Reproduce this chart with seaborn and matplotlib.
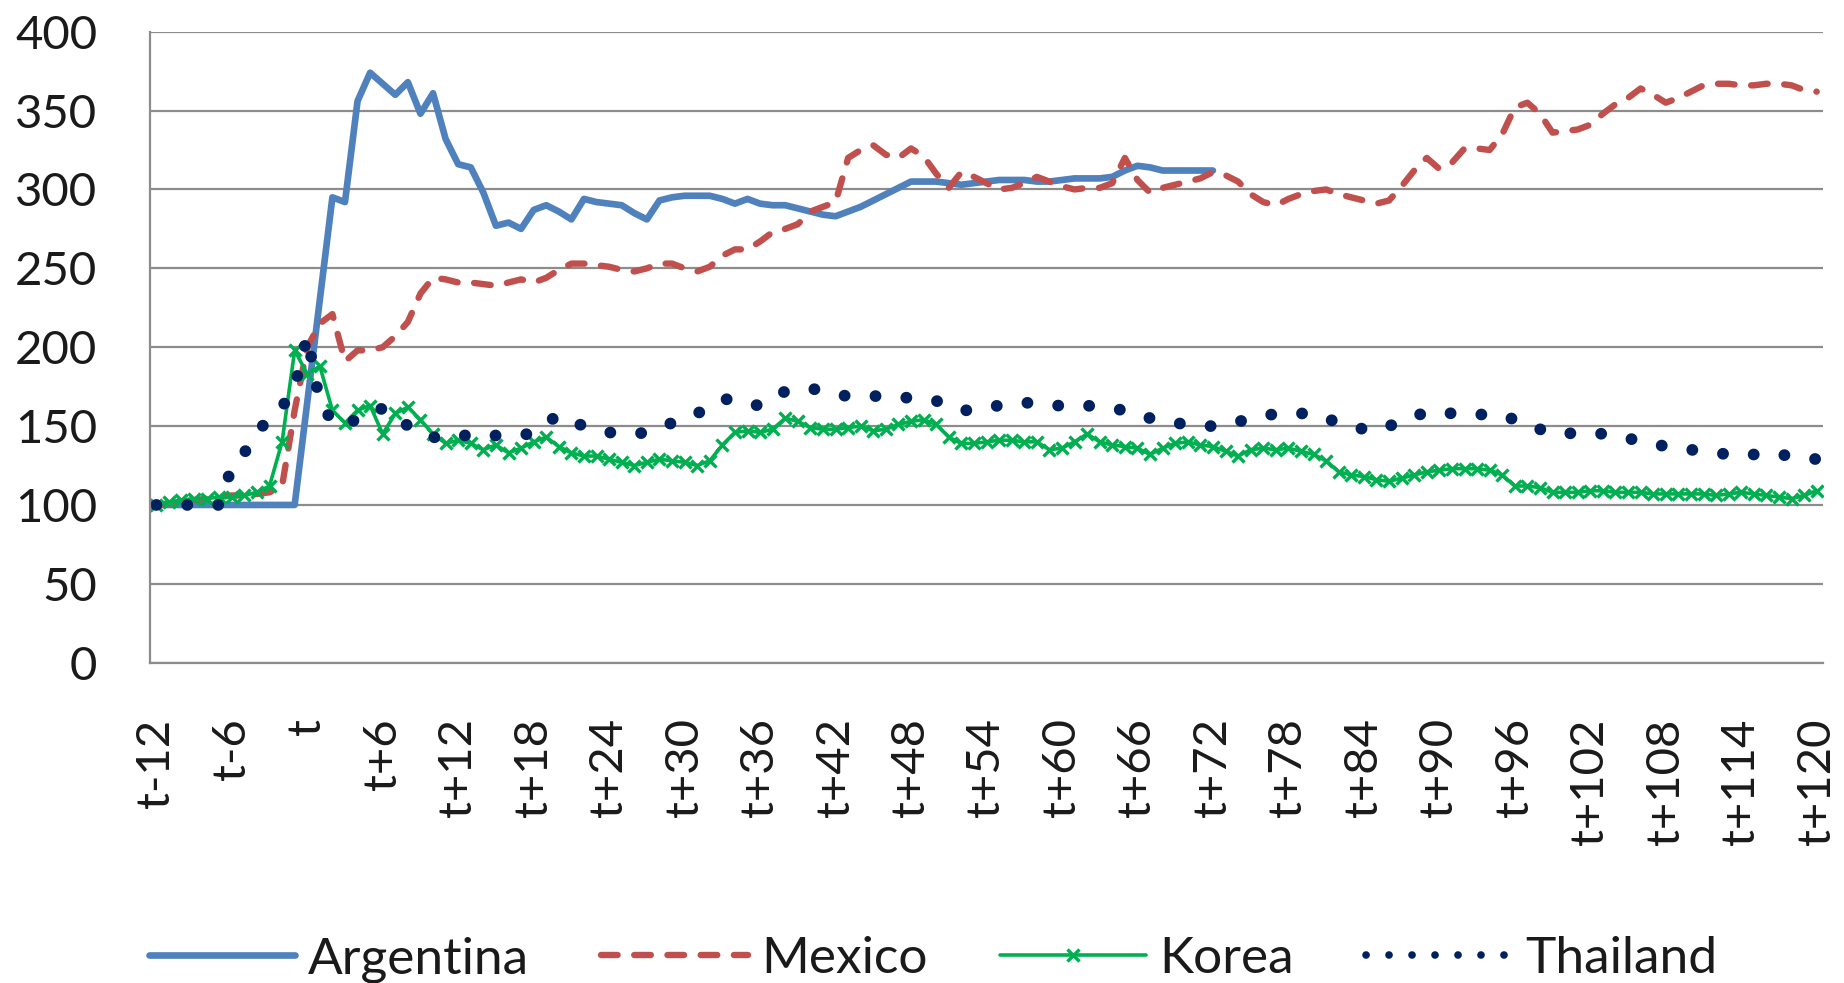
import numpy as np
import pandas as pd
import matplotlib
matplotlib.use("Agg")
import matplotlib.pyplot as plt
from matplotlib.lines import Line2D
import seaborn as sns

# Monthly index (t = 100 at t-12), months t-12 ... t+120
months = np.arange(133)

argentina = [
    100, 100, 100, 100, 100, 100, 100, 100, 100, 100, 100, 100,
    165, 230, 295, 292, 356, 374, 367, 360, 368, 348, 361, 332,
    316, 314, 298, 277, 279, 275, 287, 290, 286, 281, 294, 292,
    291, 290, 285, 281, 293, 295, 296, 296, 296, 294, 291, 294,
    291, 290, 290, 288, 286, 284, 283, 286, 289, 293, 297, 301,
    305, 305, 305, 304, 303, 304, 305, 306, 306, 306, 305, 305,
    306, 307, 307, 307, 308, 312, 315, 314, 312, 312, 312, 312,
    312,
]

mexico = [
    100, 101, 102, 103, 104, 105, 106, 106, 107, 108, 112, 160,
    200, 215, 221, 191, 198, 198, 200, 207, 216, 234, 244, 243,
    241, 241, 240, 239, 241, 243, 241, 244, 249, 253, 253, 252,
    251, 249, 248, 250, 253, 253, 250, 248, 251, 258, 262, 262,
    267, 273, 275, 278, 286, 289, 292, 320, 325, 328, 322, 320,
    326, 321, 310, 301, 311, 308, 304, 300, 301, 304, 308, 305,
    302, 300, 301, 301, 304, 320, 306, 298, 301, 303, 305, 307,
    311, 309, 305, 297, 292, 290, 294, 297, 299, 300, 297, 295,
    293, 291, 293, 302, 312, 320, 313, 317, 326, 326, 325, 335,
    352, 355, 348, 336, 337, 338, 341, 348, 354, 358, 364, 360,
    355, 358, 362, 366, 367, 367, 366, 366, 367, 367, 366, 363,
    362,
]

korea = [
    100, 102, 103, 104, 104, 105, 105, 106, 108, 112, 140, 198,
    183, 188, 160, 152, 160, 163, 145, 158, 162, 154, 145, 139,
    141, 139, 135, 138, 133, 136, 140, 143, 137, 133, 131, 131,
    129, 127, 125, 127, 129, 128, 127, 125, 128, 138, 146, 147,
    146, 148, 155, 153, 149, 148, 148, 149, 150, 147, 148, 151,
    153, 154, 151, 143, 139, 139, 140, 141, 141, 140, 140, 135,
    136, 140, 145, 140, 138, 137, 136, 132, 136, 139, 140, 138,
    137, 134, 131, 135, 136, 135, 136, 134, 132, 128, 121, 119,
    118, 116, 115, 117, 119, 121, 122, 123, 123, 123, 122, 119,
    112, 112, 111, 108, 108, 108, 109, 109, 108, 108, 108, 107,
    107, 107, 107, 107, 106, 107, 108, 107, 106, 105, 104, 106,
    109,
]

thailand = [
    100, 100, 100, 100, 100, 100, 124, 133, 146, 155, 162, 175,
    207, 165, 153, 150, 155, 160, 161, 158, 150, 145, 143, 142,
    143, 145, 145, 144, 144, 144, 146, 152, 157, 153, 150, 148,
    146, 145, 145, 146, 149, 152, 155, 158, 162, 167, 167, 164,
    163, 168, 172, 173, 174, 172, 170, 169, 169, 169, 169, 168,
    168, 167, 166, 163, 160, 160, 162, 163, 164, 165, 164, 163,
    163, 163, 163, 162, 161, 160, 158, 155, 153, 152, 151, 150,
    150, 151, 153, 154, 156, 158, 158, 158, 158, 155, 152, 150,
    148, 147, 150, 153, 156, 159, 159, 158, 157, 157, 158, 157,
    154, 152, 148, 145, 145, 146, 146, 145, 144, 142, 141, 139,
    137, 136, 135, 134, 133, 132, 131, 132, 133, 132, 131, 130,
    129,
]

tick_positions = np.arange(0, 133, 6)
tick_labels = [
    "t-12", "t-6", "t", "t+6", "t+12", "t+18", "t+24", "t+30", "t+36",
    "t+42", "t+48", "t+54", "t+60", "t+66", "t+72", "t+78", "t+84",
    "t+90", "t+96", "t+102", "t+108", "t+114", "t+120",
]
y_ticks = [0, 50, 100, 150, 200, 250, 300, 350, 400]

sns.set_style("white")
plt.rcParams["font.family"] = ["Lato", "DejaVu Sans"]

GRID = "#8c8c8c"
FS = 34
LEGEND_FS = 37
C_ARG, C_MEX, C_KOR, C_THA = "#4F81BD", "#C0504D", "#00B050", "#002060"

fig = plt.figure(figsize=(18.44, 9.83), dpi=100)
ax = fig.add_axes([150 / 1844, 1 - 662.7 / 983, (1823 - 150) / 1844, (662.7 - 31.7) / 983])

df_arg = pd.DataFrame({"month": months[:len(argentina)], "value": argentina})
df_mex = pd.DataFrame({"month": months, "value": mexico})
df_kor = pd.DataFrame({"month": months, "value": korea})
df_tha = pd.DataFrame({"month": months, "value": thailand})

sns.lineplot(data=df_arg, x="month", y="value", ax=ax, estimator=None,
             color=C_ARG, linewidth=4.8, solid_joinstyle="round",
             label="Argentina")
sns.lineplot(data=df_mex, x="month", y="value", ax=ax, estimator=None,
             color=C_MEX, linewidth=4.6, linestyle=(0, (2.6, 2.6)),
             dash_capstyle="round", dash_joinstyle="round", label="Mexico")
sns.lineplot(data=df_kor, x="month", y="value", ax=ax, estimator=None,
             color=C_KOR, linewidth=2.6, marker="x", markersize=8.5,
             markeredgewidth=2.4, markeredgecolor=C_KOR,
             markerfacecolor=C_KOR, label="Korea")
sns.lineplot(data=df_tha, x="month", y="value", ax=ax, estimator=None,
             color=C_THA, linewidth=8.5, linestyle=(0, (0.01, 2.61)),
             dash_capstyle="round", label="Thailand")

ax.set_xlim(-0.5, 132.5)
ax.set_ylim(0, 400)
ax.set_yticks(y_ticks)
ax.set_yticklabels([str(v) for v in y_ticks])
ax.set_xticks(tick_positions)
ax.set_xticklabels(tick_labels, rotation=90, va="top", ha="center")
ax.set_xlabel("")
ax.set_ylabel("")

ax.grid(axis="y", color=GRID, linewidth=1.6)
ax.grid(axis="x", visible=False)
ax.set_axisbelow(True)
for side in ("top", "right"):
    ax.spines[side].set_visible(False)
for side in ("left", "bottom"):
    ax.spines[side].set_color(GRID)
    ax.spines[side].set_linewidth(1.6)

ax.tick_params(axis="y", length=0, pad=38, labelsize=FS, labelcolor="#1a1a1a")
ax.tick_params(axis="x", length=0, pad=40, labelsize=FS, labelcolor="#1a1a1a")

# Legend keys: same styles as the series, with a finer dot pattern for Thailand
ax.get_legend().remove()
legend_handles = [
    Line2D([], [], color=C_ARG, linewidth=4.8),
    Line2D([], [], color=C_MEX, linewidth=4.6, linestyle=(0, (2.6, 2.6)),
           dash_capstyle="round"),
    Line2D([], [], color=C_KOR, linewidth=2.6, marker="x", markersize=9,
           markeredgewidth=2.4),
    Line2D([], [], color=C_THA, linewidth=5.5, linestyle=(0, (0.01, 3.0)),
           dash_capstyle="round"),
]
fig.legend(legend_handles, ["Argentina", "Mexico", "Korea", "Thailand"],
           loc="center", bbox_to_anchor=(0.506, 0.024),
           ncol=4, frameon=False, fontsize=LEGEND_FS, handlelength=2.85,
           handletextpad=0.25, columnspacing=1.41, borderpad=0,
           labelcolor="#1a1a1a")

fig.savefig("out.png", dpi=100, facecolor="white")
